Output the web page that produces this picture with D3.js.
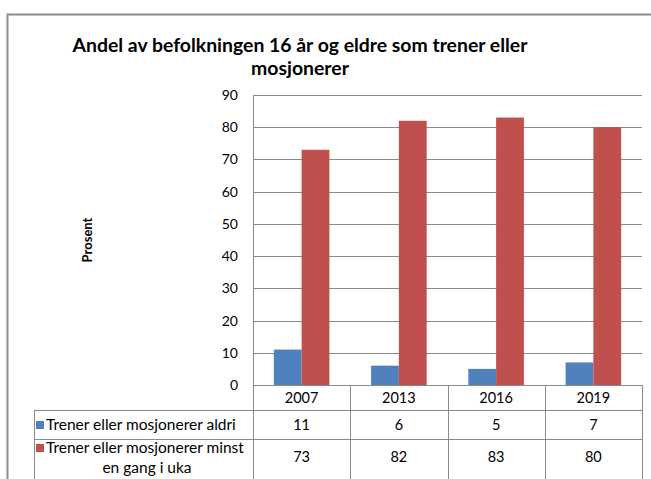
<!DOCTYPE html>
<head>
  <meta charset="utf-8">
  <script src="https://d3js.org/d3.v7.min.js"></script>
  <style>
    body { margin: 0; background: #fff; }
    svg { display: block; font-family: Lato, 'Open Sans', sans-serif; }
    .grid line { stroke: #8a8a8a; stroke-width: 1; shape-rendering: crispEdges; }
    .tbl line { stroke: #8a8a8a; stroke-width: 1; shape-rendering: crispEdges; }
  </style>
</head>
<body>
<svg width="651" height="479"></svg>
<script>
var years = ["2007", "2013", "2016", "2019"];
var seriesNames = ["Trener eller mosjonerer aldri", "Trener eller mosjonerer minst en gang i uka"];
var aldri = [11, 6, 5, 7];
var ukentlig = [73, 82, 83, 80];
var yTicks = [0, 10, 20, 30, 40, 50, 60, 70, 80, 90];
var colors = ["#4f81bd", "#c0504d"];

var svg = d3.select("svg");
var plot = {left: 253, right: 642, top: 95, bottom: 385};

// outer chart frame
svg.append("rect")
    .attr("x", 7.5).attr("y", 14.5)
    .attr("width", 660).attr("height", 480)
    .attr("fill", "none").attr("stroke", "#8c8c8c").attr("stroke-width", 2);

var x = d3.scaleBand().domain(years).range([plot.left, plot.right]);
var inner = d3.scaleBand().domain([0, 1]).range([0, x.bandwidth()]).paddingOuter(0.75).paddingInner(0);
var y = d3.scaleLinear().domain([0, 90]).range([plot.bottom, plot.top]);

// gridlines
svg.append("g")
    .attr("class", "grid")
    .selectAll("line")
    .data(yTicks)
    .enter().append("line")
    .attr("x1", plot.left).attr("x2", plot.right)
    .attr("y1", function(d) { return Math.round(y(d)) + 0.5; })
    .attr("y2", function(d) { return Math.round(y(d)) + 0.5; });

// y tick labels
svg.append("g")
    .selectAll("text")
    .data(yTicks)
    .enter().append("text")
    .attr("x", 238).attr("y", function(d) { return y(d) + 5; })
    .attr("text-anchor", "end")
    .attr("font-size", 14).attr("fill", "#000")
    .text(function(d) { return d; });

// left axis line
svg.append("line")
    .attr("x1", plot.left + 0.5).attr("x2", plot.left + 0.5)
    .attr("y1", plot.top).attr("y2", plot.bottom)
    .attr("stroke", "#8a8a8a");

// bars
var series = [aldri, ukentlig];
series.forEach(function(vals, s) {
  svg.append("g")
      .selectAll("rect")
      .data(years)
      .enter().append("rect")
      .attr("x", function(d) { return x(d) + inner(s); })
      .attr("width", inner.bandwidth())
      .attr("y", function(d, i) { return y(vals[i]); })
      .attr("height", function(d, i) { return plot.bottom - y(vals[i]); })
      .attr("fill", colors[s]);
});

// title
var title = svg.append("text")
    .attr("text-anchor", "middle")
    .attr("font-size", 19.4).attr("font-weight", "bold").attr("fill", "#000");
title.append("tspan").attr("x", 300).attr("y", 52).text("Andel av befolkningen 16 år og eldre som trener eller");
title.append("tspan").attr("x", 300).attr("y", 75).text("mosjonerer");

// y axis title
svg.append("text")
    .attr("transform", "translate(92,240) rotate(-90)")
    .attr("text-anchor", "middle")
    .attr("font-size", 13).attr("font-weight", "bold")
    .text("Prosent");

// data table
var rows = [385, 410, 439, 482];
var tbl = svg.append("g").attr("class", "tbl");
var colEdges = years.map(function(d) { return x(d); }).concat([plot.right]);

tbl.selectAll(".v")
    .data(colEdges)
    .enter().append("line")
    .attr("x1", function(d) { return Math.round(d) + 0.5; })
    .attr("x2", function(d) { return Math.round(d) + 0.5; })
    .attr("y1", rows[0]).attr("y2", rows[3]);

tbl.append("line")
    .attr("x1", 34.5).attr("x2", 34.5)
    .attr("y1", rows[1]).attr("y2", rows[3]);

[rows[1], rows[2]].forEach(function(r) {
  tbl.append("line")
      .attr("x1", 34).attr("x2", plot.right + 1)
      .attr("y1", r + 0.5).attr("y2", r + 0.5);
});

svg.append("g")
    .selectAll("text")
    .data(years)
    .enter().append("text")
    .attr("x", function(d) { return x(d) + x.bandwidth() / 2; })
    .attr("y", 403)
    .attr("text-anchor", "middle").attr("font-size", 14.5)
    .text(function(d) { return d; });

var rowMid = [430, 462];
series.forEach(function(vals, s) {
  svg.append("g")
      .selectAll("text")
      .data(vals)
      .enter().append("text")
      .attr("x", function(d, i) { return x(years[i]) + x.bandwidth() / 2; })
      .attr("y", rowMid[s])
      .attr("text-anchor", "middle").attr("font-size", 14.5)
      .text(function(d) { return d; });
});

// legend keys in table
svg.append("rect").attr("x", 36).attr("y", 421).attr("width", 8).attr("height", 8).attr("fill", colors[0]);
svg.append("rect").attr("x", 36).attr("y", 444).attr("width", 8).attr("height", 8).attr("fill", colors[1]);

svg.append("text").attr("x", 46).attr("y", 430).attr("font-size", 15.5).text(seriesNames[0]);
var l2 = svg.append("text").attr("font-size", 15.5);
l2.append("tspan").attr("x", 46).attr("y", 453).text("Trener eller mosjonerer minst");
l2.append("tspan").attr("x", 147).attr("y", 473).attr("text-anchor", "middle").text("en gang i uka");
</script>
</body>
